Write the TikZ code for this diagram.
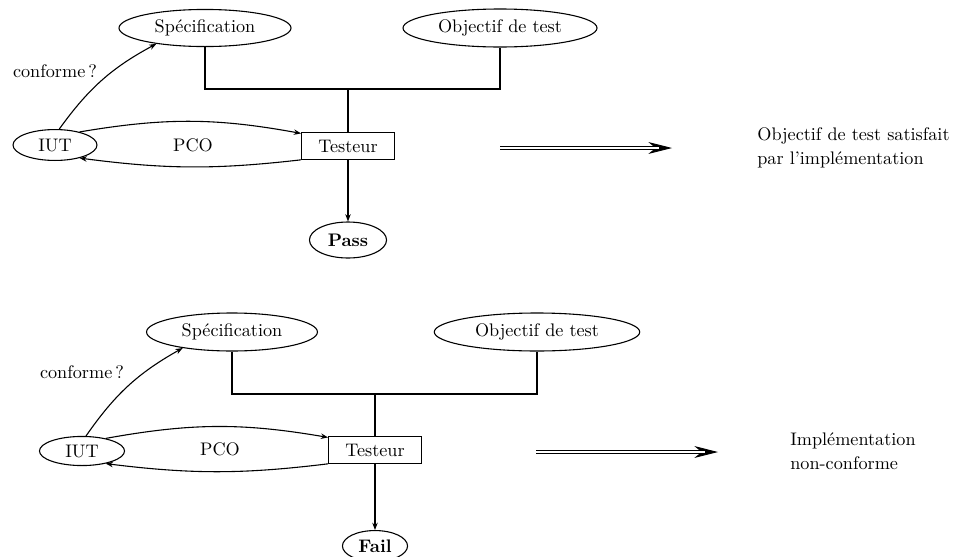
\documentclass[tikz,border=0pt]{standalone}
\usetikzlibrary{shapes.geometric,arrows.meta}
\begin{document}
\begin{tikzpicture}[x=0.55pt,y=-0.55pt,
  every node/.style={font=\fontsize{10}{13}\selectfont},
  oval/.style={draw,ellipse,line width=0.6pt,inner sep=0pt},
  testbox/.style={draw,rectangle,line width=0.6pt,inner sep=0pt,minimum width=51pt,minimum height=14.6pt},
  link/.style={line width=0.6pt},
  flow/.style={line width=0.6pt,-{Stealth[length=4pt,width=3pt]}},
  verdict/.style={line width=0.5pt,-{Stealth[length=13pt,width=6.5pt,inset=4pt]}},
  rail/.style={line width=0.5pt,double,double distance=1.4pt,shorten >=7pt},
  note/.style={anchor=west,align=left,inner sep=0pt}]
\useasboundingbox (0,0) rectangle (970,556);
\clip (0,0) rectangle (970,556);

% ---- verdict Pass ----
\node[oval,minimum width=94.6pt,minimum height=20.4pt] (spec) at (205,28) {Spécification};
\node[oval,minimum width=106.7pt,minimum height=20.9pt] (obj) at (500,28) {Objectif de test};
\node[testbox] (tst) at (348,146) {Testeur};
\node[oval,minimum width=46.2pt,minimum height=17pt] (iut) at (55,145) {IUT};
\node[oval,minimum width=42.4pt,minimum height=19.8pt] (pass) at (348,240) {\textbf{Pass}};
\node (pco) at (193,145) {PCO};
\node (conf) at (55,71) {conforme\,?};
\coordinate (jn) at (348,89);
\draw[link] (spec.south) |- (jn) -| (obj.south);
\draw[link] (jn) -- (tst.north);
\draw[flow] (iut.28) to[bend left=10] (tst.165);
\draw[flow] (tst.south west) to[bend left=7] (iut.-28);
\draw[flow] (iut.75) to[bend left=13] (spec.198);
\draw[flow] (tst.south) -- (pass.north);
\coordinate (r1a) at (500,148);
\coordinate (r1b) at (672,148);
\draw[verdict] (r1a) -- (r1b);
\draw[rail] (r1a) -- (r1b);
\node[note] (res1) at (757,148) {Objectif de test satisfait\\par l'implémentation};

% ---- verdict Fail ----
\node[oval,minimum width=94pt,minimum height=20.9pt] (spec2) at (232,332) {Spécification};
\node[oval,minimum width=113pt,minimum height=20.9pt] (obj2) at (537,332) {Objectif de test};
\node[testbox] (tst2) at (375,450) {Testeur};
\node[oval,minimum width=46.8pt,minimum height=16pt] (iut2) at (82,451) {IUT};
\node[oval,minimum width=35.8pt,minimum height=17pt] (fail) at (375,546) {\textbf{Fail}};
\node (pco2) at (220,449) {PCO};
\node (conf2) at (82,372) {conforme\,?};
\coordinate (jn2) at (375,394);
\draw[link] (spec2.south) |- (jn2) -| (obj2.south);
\draw[link] (jn2) -- (tst2.north);
\draw[flow] (iut2.28) to[bend left=10] (tst2.165);
\draw[flow] (tst2.south west) to[bend left=7] (iut2.-28);
\draw[flow] (iut2.75) to[bend left=13] (spec2.198);
\draw[flow] (tst2.south) -- (fail.north);
\coordinate (r2a) at (536,452);
\coordinate (r2b) at (718,452);
\draw[verdict] (r2a) -- (r2b);
\draw[rail] (r2a) -- (r2b);
\node[note] (res2) at (790,451) {Implémentation\\non-conforme};
\end{tikzpicture}
\end{document}
